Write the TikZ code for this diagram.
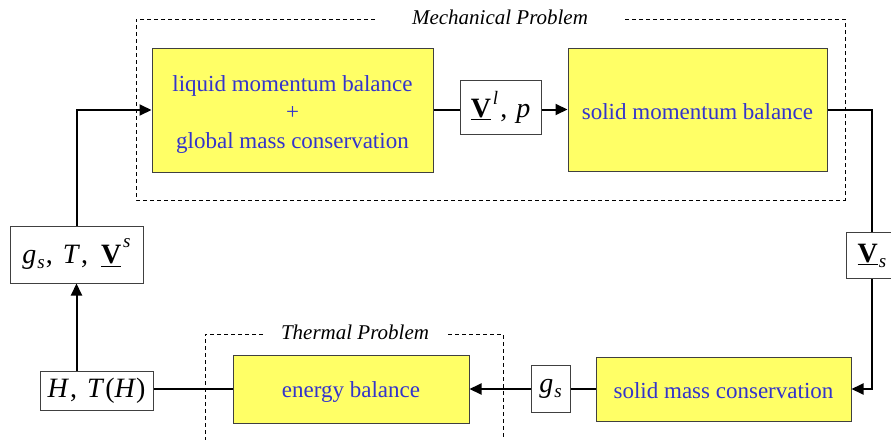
\documentclass[tikz,border=0pt]{standalone}
\usepackage{fontspec}
\setmainfont{Liberation Serif}
\usetikzlibrary{arrows.meta}
\definecolor{boxyellow}{RGB}{255,255,102}
\definecolor{txtblue}{RGB}{51,51,204}
\definecolor{edgegray}{RGB}{64,64,64}
\newcommand{\ulV}{\underline{\textbf{V}}}
\newcommand{\smallit}[1]{{\fontsize{19}{19}\selectfont\textit{#1}}}
\newcommand{\mysub}[1]{\kern1pt\raisebox{-5pt}{\smallit{#1}}}
\newcommand{\mysup}[2]{\kern2pt\raisebox{#1}{\smallit{#2}}}
\newcommand{\shiftdown}[2]{\raisebox{-#1}[\height][\depth]{#2}}
\tikzset{
 proc/.style={draw=edgegray, line width=1pt, fill=boxyellow, text=txtblue, font=\fontsize{23}{28.5}\selectfont, align=center, inner sep=0pt},
 var/.style={draw=edgegray, line width=1pt, fill=white, font=\fontsize{28}{30}\selectfont, inner sep=0pt},
 conn/.style={line width=2pt},
 arr/.style={conn, -{Triangle[length=12pt,width=11pt]}},
 frame/.style={line width=0.8pt, dash pattern=on 4pt off 3pt},
 frametitle/.style={font=\fontsize{21}{24}\selectfont\itshape, inner sep=0pt}
}
\begin{document}
\begin{tikzpicture}[x=1pt,y=-1pt]
\useasboundingbox (0,0) rectangle (891,439);
\begin{scope}
\clip (0,0) rectangle (891,439);
% frames
\draw[frame] (375,19) -- (136,19) -- (136,200) -- (845,200) -- (845,19) -- (625,19);
\node[frametitle] (mechtitle) at (500,17) {Mechanical Problem};
\draw[frame] (263,334) -- (205,334) -- (205,445);
\draw[frame] (448,334) -- (503,334) -- (503,445);
\node[frametitle] (thermtitle) at (355,332) {Thermal Problem};
% process boxes
\node[proc, minimum width=281pt, minimum height=124pt] (liq) at (292.5,110) {\shiftdown{4pt}{\begin{tabular}{@{}c@{}}liquid momentum balance\\+\\global mass conservation\end{tabular}}};
\node[proc, minimum width=259pt, minimum height=123pt] (sol) at (697.5,109.5) {\shiftdown{2pt}{solid momentum balance}};
\node[proc, minimum width=255pt, minimum height=64pt] (smc) at (723.5,389) {\shiftdown{2pt}{solid mass conservation}};
\node[proc, minimum width=236pt, minimum height=68pt] (eb) at (351,389) {\shiftdown{3pt}{energy balance}};
% variable boxes
\node[var, minimum width=81pt, minimum height=54pt] (vl) at (500.5,107) {\ulV\mysup{13pt}{l}\kern2pt,\hspace{9pt}\textit{p}};
\node[var, minimum width=52pt, minimum height=46pt, anchor=north] (vs) at (872,232) {\ulV\mysub{s}};
\node[var, minimum width=39pt, minimum height=47pt] (gs) at (550.5,388.5) {\textit{g}\mysub{s}};
\node[var, minimum width=113pt, minimum height=39pt] (hth) at (96.5,390.5) {\textit{H}\kern1pt,\hspace{10pt}\textit{T}\kern1pt(\textit{H})};
\node[var, minimum width=133pt, minimum height=57pt] (gtv) at (76.5,254.5) {\textit{g}\mysub{s}\kern1pt,\hspace{10pt}\textit{T}\kern1pt,\hspace{13pt}\ulV\mysup{16pt}{s}};
% connectors
\draw[arr] (gtv.north) |- (liq.west);
\draw[conn] (liq.east) -- (liq.east -| vl.west);
\draw[arr] (vl.east |- sol.west) -- (sol.west);
\draw[conn] (sol.east) -| (vs.north);
\draw[arr] (vs.south) |- (smc.east);
\draw[conn] (smc.west) -- (gs.east |- smc.west);
\draw[arr] (gs.west |- eb.east) -- (eb.east);
\draw[conn] (eb.west) -- (hth.east |- eb.west);
\draw[arr] (hth.north -| gtv.south) -- (gtv.south);
\end{scope}
\end{tikzpicture}
\end{document}
